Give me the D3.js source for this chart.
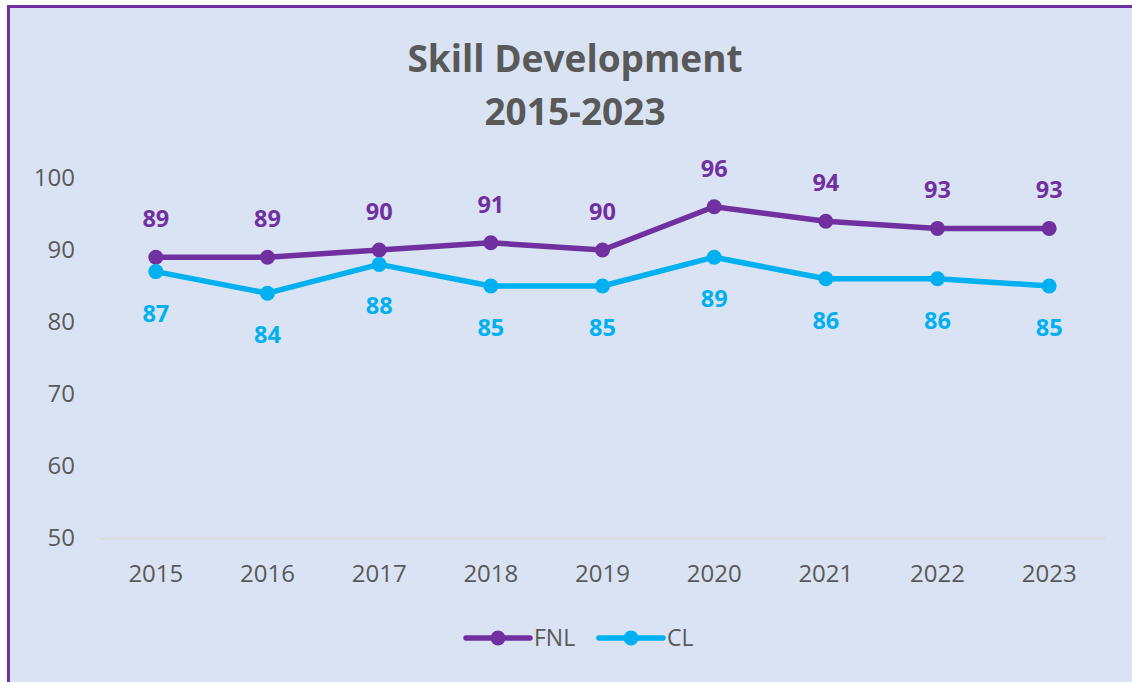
<!DOCTYPE html>
<html>
<head>
<meta charset="utf-8">
<script src="https://cdn.jsdelivr.net/npm/d3@7"></script>
<style>
html,body{margin:0;padding:0;background:#fff;}
svg{display:block;}
text{font-family:"Open Sans",sans-serif;}
</style>
</head>
<body>
<svg id="chart" width="1132" height="682"></svg>
<script>
const years = ["2015","2016","2017","2018","2019","2020","2021","2022","2023"];
const fnlValues = [89,89,90,91,90,96,94,93,93];
const clValues = [87,84,88,85,85,89,86,86,85];
const yTicks = [50,60,70,80,90,100];
const seriesNames = ["FNL","CL"];
const seriesColors = ["#7030a0","#00b0f0"];
const titleLines = ["Skill Development","2015-2023"];

const svg = d3.select("#chart");
svg.append("rect").attr("x",8.5).attr("y",6.5).attr("width",1140).attr("height",700)
  .attr("fill","#dae3f3").attr("stroke","#7030a0").attr("stroke-width",3);

const x = d3.scaleBand().domain(years).range([100,1105]);
const y = d3.scaleLinear().domain([50,100]).range([538,178]);

svg.append("g").selectAll("text").data(titleLines).join("text")
  .attr("x",575).attr("y",(d,i)=>72+i*53)
  .attr("text-anchor","middle").attr("font-size",37).attr("font-weight","bold")
  .attr("fill","#595959").text(d=>d);

const yAxis = d3.axisLeft(y).tickValues(yTicks).tickSize(0).tickPadding(0);
const yg = svg.append("g").attr("transform","translate(75,0)").call(yAxis);
yg.select(".domain").remove();
yg.selectAll("text").attr("font-size",24).attr("fill","#595959")
  .attr("font-family","'Open Sans',sans-serif");

const xAxis = d3.axisBottom(x).tickSize(0).tickPadding(27);
const xg = svg.append("g").attr("transform","translate(0,538)").call(xAxis);
xg.select(".domain").attr("stroke","#d9d9d9").attr("stroke-width",2);
xg.selectAll("text").attr("font-size",24).attr("fill","#595959")
  .attr("font-family","'Open Sans',sans-serif");

const series = [fnlValues, clValues];
const cx = d => x(d) + x.bandwidth()/2;
const line = d3.line().x((d,i)=>cx(years[i])).y(d=>y(d));

series.forEach((vals,si)=>{
  const g = svg.append("g");
  g.append("path").datum(vals).attr("d",line).attr("fill","none")
    .attr("stroke",seriesColors[si]).attr("stroke-width",5.5).attr("stroke-linejoin","round").attr("stroke-linecap","round");
  g.selectAll("circle").data(vals).join("circle")
    .attr("cx",(d,i)=>cx(years[i])).attr("cy",d=>y(d)).attr("r",7.5)
    .attr("fill",seriesColors[si]);
  g.selectAll("text").data(vals).join("text")
    .attr("x",(d,i)=>cx(years[i]))
    .attr("y",d=> si===0 ? y(d)-30 : y(d)+50)
    .attr("text-anchor","middle").attr("font-size",23.5).attr("font-weight","bold")
    .attr("fill",seriesColors[si]).text(d=>d);
});

const legendItems = [{name:seriesNames[0],color:seriesColors[0],x0:466},{name:seriesNames[1],color:seriesColors[1],x0:599}];
const lg = svg.append("g");
legendItems.forEach(it=>{
  lg.append("line").attr("x1",it.x0).attr("x2",it.x0+64).attr("y1",638).attr("y2",638)
    .attr("stroke",it.color).attr("stroke-width",5.5).attr("stroke-linecap","round");
  lg.append("circle").attr("cx",it.x0+32).attr("cy",638).attr("r",7.5).attr("fill",it.color);
  lg.append("text").attr("x",it.x0+68).attr("y",646).attr("font-size",23).attr("fill","#595959").text(it.name);
});
</script>
</body>
</html>
